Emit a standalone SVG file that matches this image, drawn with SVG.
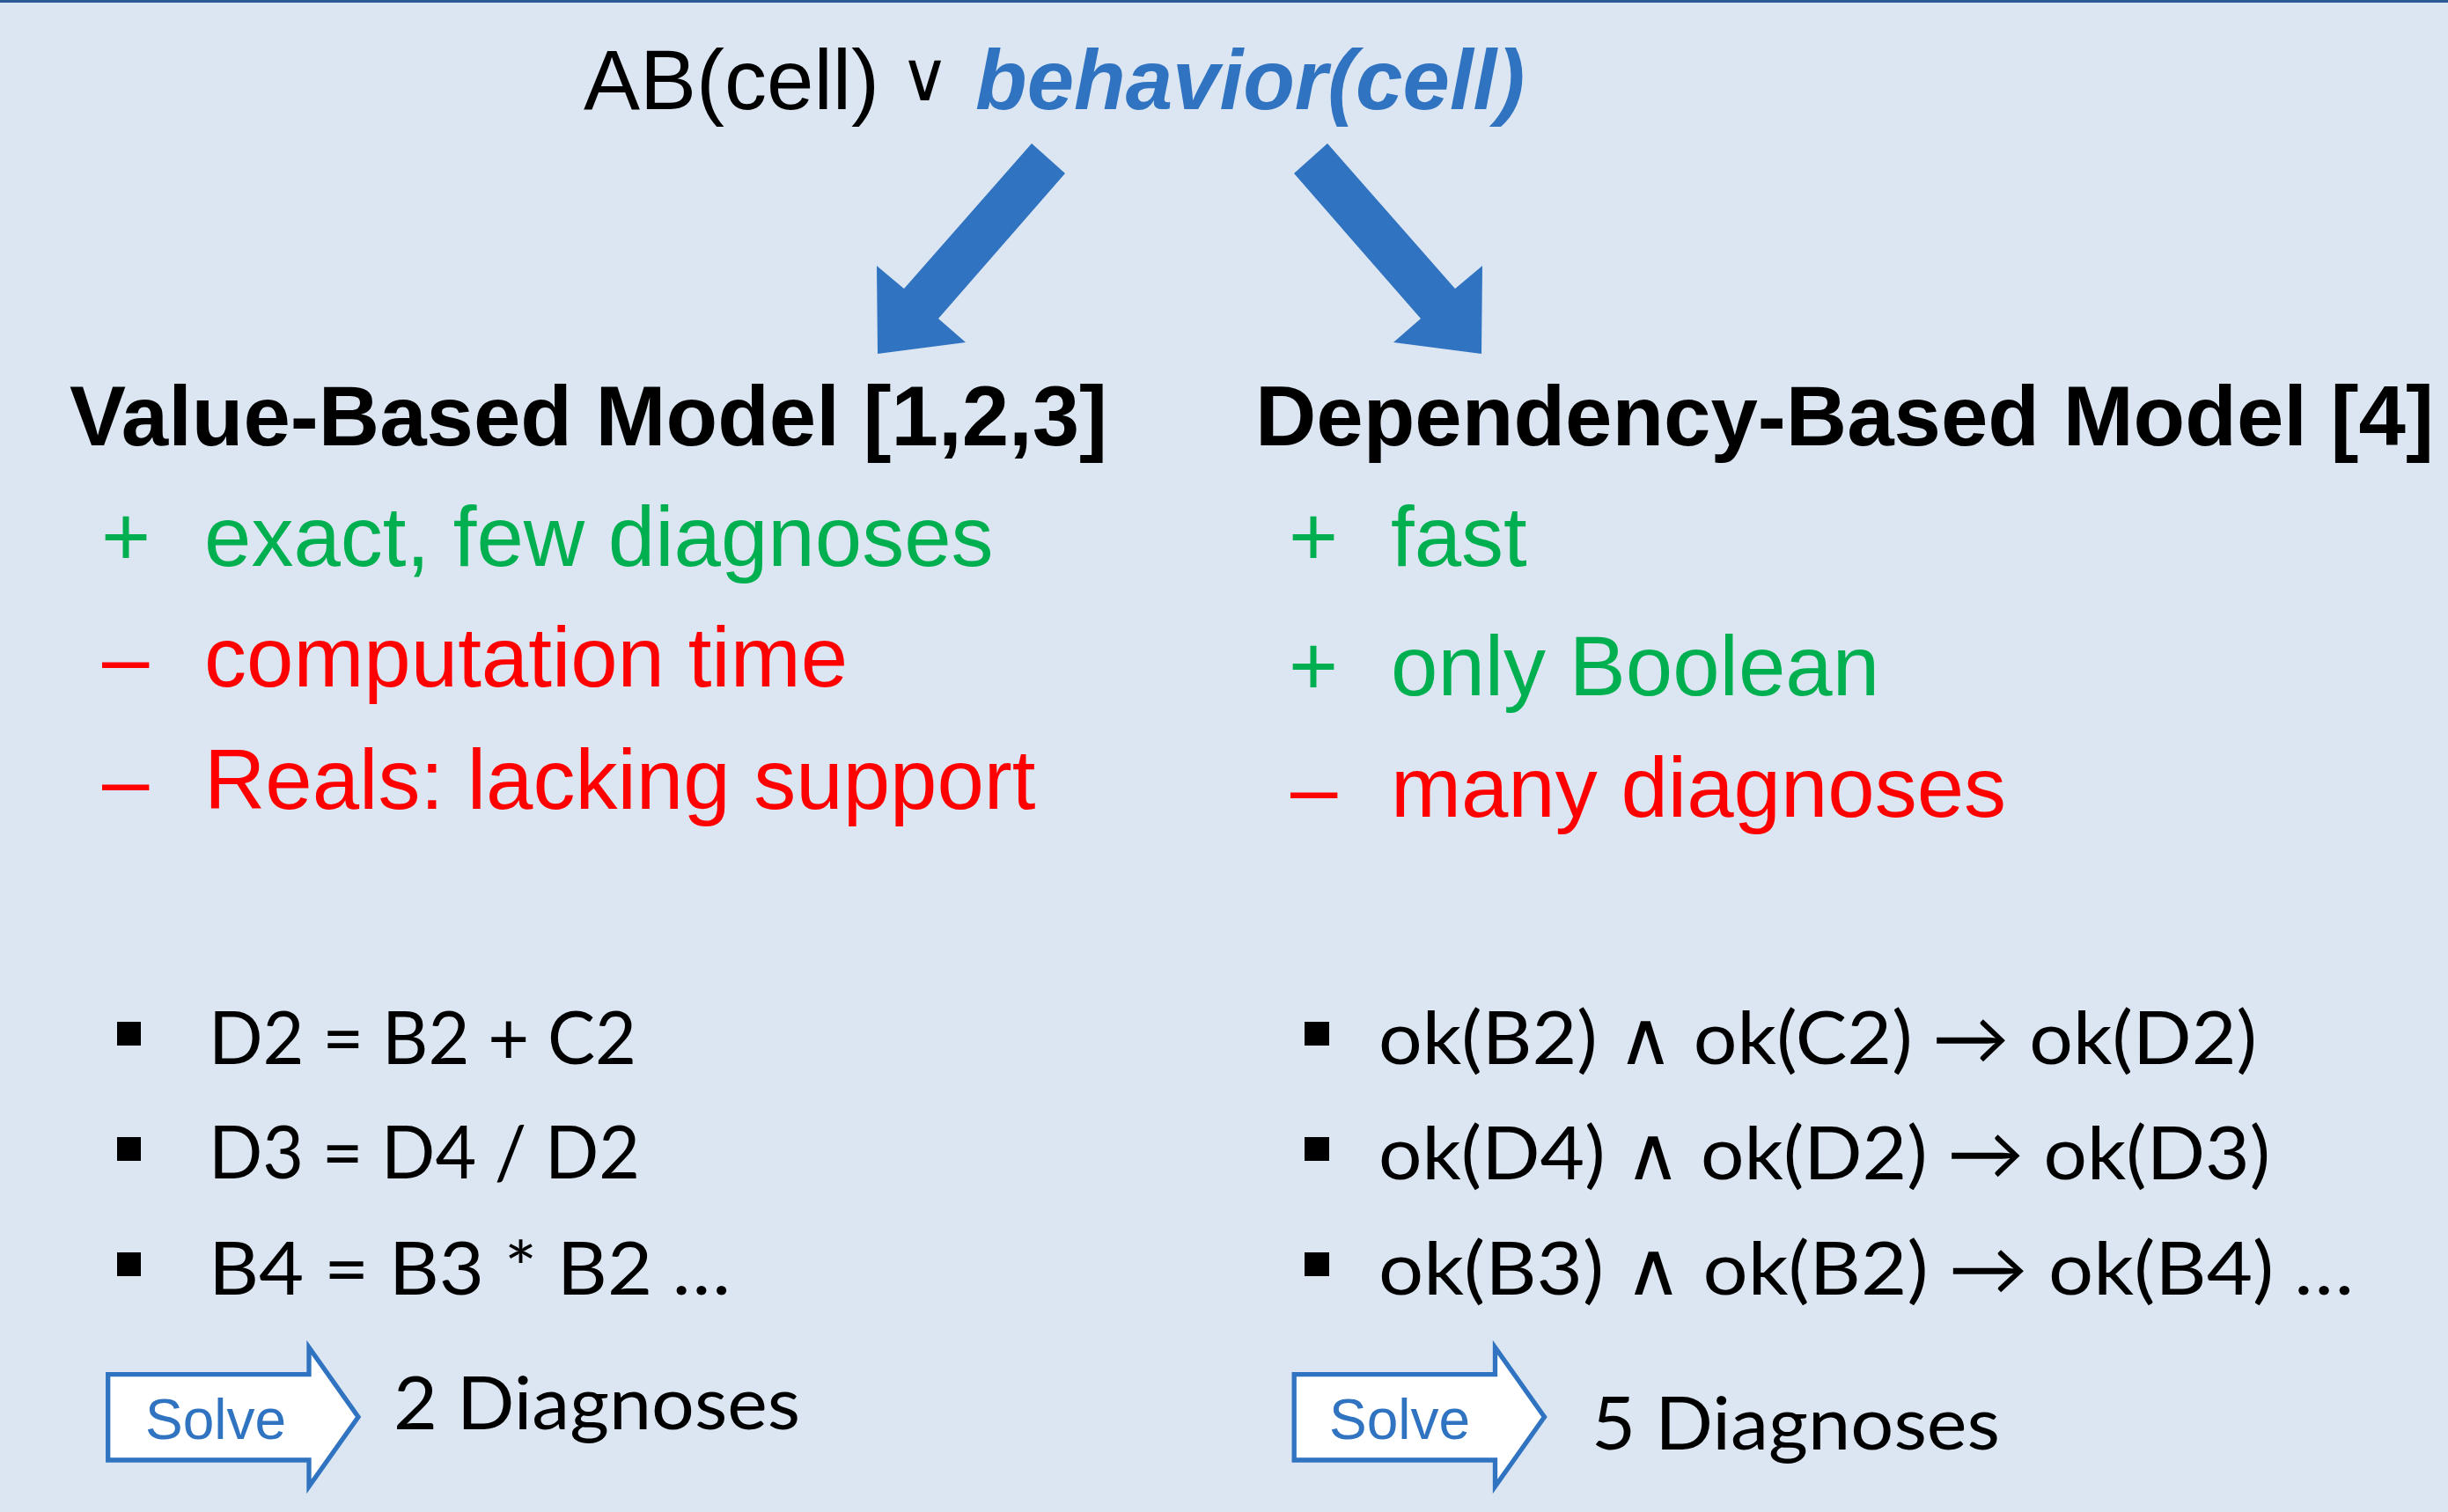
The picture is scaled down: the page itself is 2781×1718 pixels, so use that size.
<svg xmlns="http://www.w3.org/2000/svg" width="2781" height="1718" viewBox="0 0 2781 1718">
  <style>
    .arial { font-family: "Liberation Sans", Arial, sans-serif; }
    .head { font-family: "Liberation Sans", Arial, sans-serif; font-weight: bold; font-size: 96px; fill: #000; }
    .pro { font-family: "Liberation Sans", Arial, sans-serif; font-size: 96px; fill: #00B050; }
    .con { font-family: "Liberation Sans", Arial, sans-serif; font-size: 96px; fill: #FF0000; }
    .cal { font-family: Lato, "Open Sans", "DejaVu Sans", sans-serif; font-size: 84px; fill: #000; }
    .sym { font-family: "DejaVu Sans", "Noto Sans", sans-serif; }
    .bigarrow { fill: #2F73C1; }
    .solve { fill: #FFFFFF; stroke: #2F73C1; stroke-width: 5.3; stroke-linejoin: miter; }
    .solvetext { font-family: "Liberation Sans", Arial, sans-serif; font-size: 64px; fill: #2F73C1; }
    .bullet { fill: #000; }
  </style>
  <rect x="0" y="0" width="2781" height="1718" fill="#DCE6F2"/>
  <rect x="0" y="0" width="2781" height="3" fill="#2C5A97"/>

  <g id="title">
    <text class="arial" x="663" y="124" font-size="96" fill="#000">AB(cell)</text>
    <text class="sym" x="1022" y="114" font-size="78" fill="#000">∨</text>
    <text class="arial" x="1108" y="124" font-size="96" font-weight="bold" font-style="italic" fill="#2F73C1">behavior(cell)</text>
  </g>

  <g id="connectors">
    <polygon class="bigarrow" points="1172,163 1210,197 1066,362 1097,389 997,402 996,302 1027,328"/>
    <polygon class="bigarrow" points="1508,163 1470,197 1614,362 1583,389 1683,402 1684,302 1653,328"/>
  </g>

  <g id="value-based">
    <text class="head" x="79" y="506">Value-Based Model [1,2,3]</text>
    <text class="pro" x="115" y="643">+</text>
    <text class="pro" x="232" y="643">exact, few diagnoses</text>
    <text class="con" x="116" y="780">–</text>
    <text class="con" x="232" y="780">computation time</text>
    <text class="con" x="116" y="919">–</text>
    <text class="con" x="232" y="919">Reals: lacking support</text>
  </g>

  <g id="dependency-based">
    <text class="head" x="1426" y="506">Dependency-Based Model [4]</text>
    <text class="pro" x="1464" y="643">+</text>
    <text class="pro" x="1580" y="643">fast</text>
    <text class="pro" x="1464" y="790">+</text>
    <text class="pro" x="1580" y="790">only Boolean</text>
    <text class="con" x="1466" y="928">–</text>
    <text class="con" x="1580" y="928">many diagnoses</text>
  </g>

  <g id="value-constraints">
    <rect class="bullet" x="133" y="1161" width="27" height="27"/>
    <rect class="bullet" x="133" y="1292" width="27" height="27"/>
    <rect class="bullet" x="133" y="1423" width="27" height="27"/>
    <text class="cal" x="237" y="1209" textLength="486" lengthAdjust="spacingAndGlyphs">D2 = B2 + C2</text>
    <text class="cal" x="237" y="1339" textLength="490" lengthAdjust="spacingAndGlyphs">D3 = D4 / D2</text>
    <text class="cal" x="237" y="1471" textLength="593" lengthAdjust="spacingAndGlyphs">B4 = B3 * B2 …</text>
  </g>

  <g id="dependency-constraints">
    <rect class="bullet" x="1482" y="1161" width="28" height="27"/>
    <rect class="bullet" x="1482" y="1292" width="28" height="27"/>
    <rect class="bullet" x="1482" y="1423" width="28" height="27"/>
    <text class="cal" x="1566" y="1209" textLength="998" lengthAdjust="spacingAndGlyphs">ok(B2) ∧ ok(C2) → ok(D2)</text>
    <text class="cal" x="1566" y="1340" textLength="1013" lengthAdjust="spacingAndGlyphs">ok(D4) ∧ ok(D2) → ok(D3)</text>
    <text class="cal" x="1566" y="1471" textLength="1108" lengthAdjust="spacingAndGlyphs">ok(B3) ∧ ok(B2) → ok(B4) …</text>
  </g>

  <g id="solve-left">
    <polygon class="solve" points="122.7,1561.7 351,1561.7 351,1531 407,1610 351,1689 351,1659 122.7,1659"/>
    <text class="solvetext" x="165" y="1635">Solve</text>
  </g>
  <g id="result-left">
    <text class="cal" x="447" y="1624" textLength="462" lengthAdjust="spacingAndGlyphs">2 Diagnoses</text>
  </g>

  <g id="solve-right">
    <polygon class="solve" points="1470.2,1561.7 1698.5,1561.7 1698.5,1531 1754.5,1610 1698.5,1689 1698.5,1659 1470.2,1659"/>
    <text class="solvetext" x="1510" y="1635">Solve</text>
  </g>
  <g id="result-right">
    <text class="cal" x="1808" y="1647" textLength="464" lengthAdjust="spacingAndGlyphs">5 Diagnoses</text>
  </g>
</svg>
